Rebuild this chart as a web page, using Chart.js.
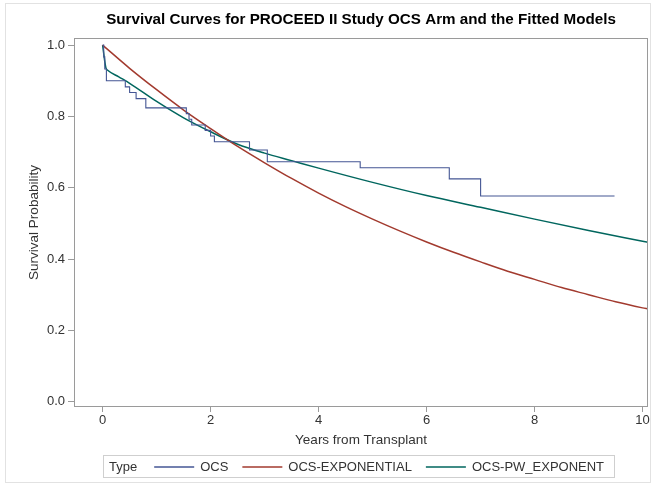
<!DOCTYPE html>
<html><head><meta charset="utf-8">
<script src="https://cdn.jsdelivr.net/npm/chart.js@4/dist/chart.umd.min.js"></script>
<style>html,body{margin:0;padding:0;background:#fff}#wrap{width:653px;height:493px;position:relative}</style>
</head><body><div id="wrap"><canvas id="c"></canvas></div>
<script>
const chartTitle = "Survival Curves for PROCEED II Study OCS Arm and the Fitted Models";
const xTitle = "Years from Transplant";
const yTitle = "Survival Probability";
const legendTitle = "Type";
const seriesNames = ["OCS", "OCS-EXPONENTIAL", "OCS-PW_EXPONENT"];
const seriesColors = ["#445694", "#A23A2E", "#01665E"];
const xTicks = [0, 2, 4, 6, 8, 10];
const yTicks = [0.0, 0.2, 0.4, 0.6, 0.8, 1.0];

// Kaplan-Meier (OCS) step curve: time of each drop and survival after it
const ocsTimes = [0, 0.02, 0.04, 0.07, 0.42, 0.5, 0.62, 0.8, 1.55, 1.6, 1.65, 1.9, 2.0, 2.07, 2.72, 3.05, 4.77, 6.42, 7.0, 9.48];
const ocsSurv  = [1.0, 0.967, 0.933, 0.9, 0.883, 0.867, 0.85, 0.824, 0.808, 0.792, 0.776, 0.761, 0.745, 0.729, 0.706, 0.673, 0.656, 0.625, 0.577, 0.577];

// Exponential fit
const expTimes = [0, 0.5, 1, 1.5, 2, 2.5, 3, 3.5, 4, 4.5, 5, 5.5, 6, 6.5, 7, 7.5, 8, 8.5, 9, 9.5, 10, 10.1];
const expSurv  = [1.0, 0.935, 0.875, 0.818, 0.766, 0.716, 0.67, 0.626, 0.585, 0.547, 0.512, 0.479, 0.448, 0.419, 0.392, 0.366, 0.343, 0.32, 0.3, 0.28, 0.263, 0.26];

// Piecewise exponential fit
const pwTimes = [0, 0.06, 0.1, 0.3, 0.5, 1.0, 1.5, 2.0, 2.5, 3.0, 3.5, 4.0, 5.0, 6.0, 7.0, 8.0, 9.0, 10.0, 10.1];
const pwSurv  = [1.0, 0.937, 0.929, 0.911, 0.893, 0.842, 0.796, 0.757, 0.722, 0.697, 0.676, 0.655, 0.615, 0.578, 0.545, 0.512, 0.48, 0.45, 0.447];

const toPts = (xs, ys) => xs.map((x, i) => ({x: x, y: ys[i]}));

const AXIS_GRAY = "#9a9a9a";
const TEXT_GRAY = "#333333";
const FONT = "'Liberation Sans', Arial, sans-serif";

const framePlugin = {
  id: 'frame',
  beforeDraw(chart) {
    const ctx = chart.ctx;
    ctx.save();
    ctx.fillStyle = '#fff';
    ctx.fillRect(0, 0, chart.width, chart.height);
    ctx.strokeStyle = '#e2e2e2';
    ctx.lineWidth = 1;
    ctx.strokeRect(5.5, 3.5, 645, 479);
    ctx.restore();
  },
  afterDraw(chart) {
    const ctx = chart.ctx;
    const a = chart.chartArea;
    ctx.save();
    ctx.strokeStyle = AXIS_GRAY;
    ctx.lineWidth = 1;
    ctx.strokeRect(Math.round(a.left) + 0.5, Math.round(a.top) + 0.5, Math.round(a.right - a.left) - 1, Math.round(a.bottom - a.top) - 1);

    // legend
    ctx.font = "13px " + FONT;
    ctx.textBaseline = 'middle';
    ctx.fillStyle = TEXT_GRAY;
    const padL = 6, afterTitle = 17, lineLen = 40, lineGap = 6, itemGap = 14, padR = 10;
    let w = padL + ctx.measureText(legendTitle).width + afterTitle;
    seriesNames.forEach((n, i) => {
      w += lineLen + lineGap + ctx.measureText(n).width + (i < seriesNames.length - 1 ? itemGap : 0);
    });
    w += padR;
    const boxTop = 455, boxH = 22;
    const boxLeft = 103;
    ctx.strokeStyle = '#cfcfcf';
    ctx.strokeRect(boxLeft + 0.5, boxTop + 0.5, Math.round(w), boxH);
    const cy = boxTop + boxH / 2 + 1;
    let x = boxLeft + padL;
    ctx.fillText(legendTitle, x, cy);
    x += ctx.measureText(legendTitle).width + afterTitle;
    seriesNames.forEach((n, i) => {
      ctx.strokeStyle = seriesColors[i];
      ctx.lineWidth = 1.5;
      ctx.beginPath();
      ctx.moveTo(x, cy);
      ctx.lineTo(x + lineLen, cy);
      ctx.stroke();
      x += lineLen + lineGap;
      ctx.fillStyle = TEXT_GRAY;
      ctx.fillText(n, x, cy);
      x += ctx.measureText(n).width + itemGap;
    });
    ctx.restore();
  }
};

new Chart(document.getElementById('c'), {
  type: 'line',
  data: {
    datasets: [
      {label: seriesNames[0], data: toPts(ocsTimes, ocsSurv), borderColor: seriesColors[0], borderWidth: 1.1, stepped: 'before', pointRadius: 0, fill: false},
      {label: seriesNames[1], data: toPts(expTimes, expSurv), borderColor: seriesColors[1], borderWidth: 1.5, cubicInterpolationMode: 'monotone', pointRadius: 0, fill: false},
      {label: seriesNames[2], data: toPts(pwTimes, pwSurv), borderColor: seriesColors[2], borderWidth: 1.5, cubicInterpolationMode: 'monotone', pointRadius: 0, fill: false}
    ]
  },
  options: {
    responsive: true,
    maintainAspectRatio: false,
    animation: false,
    layout: {padding: {left: 0, right: 5, top: 0, bottom: 30}},
    plugins: {
      legend: {display: false},
      tooltip: {enabled: false},
      title: {
        display: true,
        fullSize: false,
        text: chartTitle,
        color: '#000',
        font: {family: FONT, size: 15.2, weight: 'bold'},
        padding: {top: 11, bottom: 8.76}
      }
    },
    scales: {
      x: {
        type: 'linear',
        min: -0.53,
        max: 10.1,
        afterBuildTicks(scale) { scale.ticks = xTicks.map(v => ({value: v})); },
        afterFit(scale) { scale.height = 56; },
        border: {display: false},
        grid: {display: true, drawOnChartArea: false, drawTicks: true, tickLength: 5, color: AXIS_GRAY},
        ticks: {color: TEXT_GRAY, font: {family: FONT, size: 13}, padding: 1, maxRotation: 0, callback: v => String(v)},
        title: {display: true, text: xTitle, color: TEXT_GRAY, font: {family: FONT, size: 13.5}, padding: {top: 0, bottom: 14.9}}
      },
      y: {
        type: 'linear',
        min: -0.015,
        max: 1.02,
        afterBuildTicks(scale) { scale.ticks = yTicks.map(v => ({value: v})); },
        afterFit(scale) { scale.width = 74; },
        border: {display: false},
        grid: {display: true, drawOnChartArea: false, drawTicks: true, tickLength: 6, color: AXIS_GRAY},
        ticks: {color: TEXT_GRAY, font: {family: FONT, size: 13}, padding: 3, callback: v => Number(v).toFixed(1)},
        title: {display: true, text: yTitle, color: TEXT_GRAY, font: {family: FONT, size: 13.5}, padding: {top: 25.9, bottom: 0}}
      }
    }
  },
  plugins: [framePlugin]
});
</script>
</body></html>
